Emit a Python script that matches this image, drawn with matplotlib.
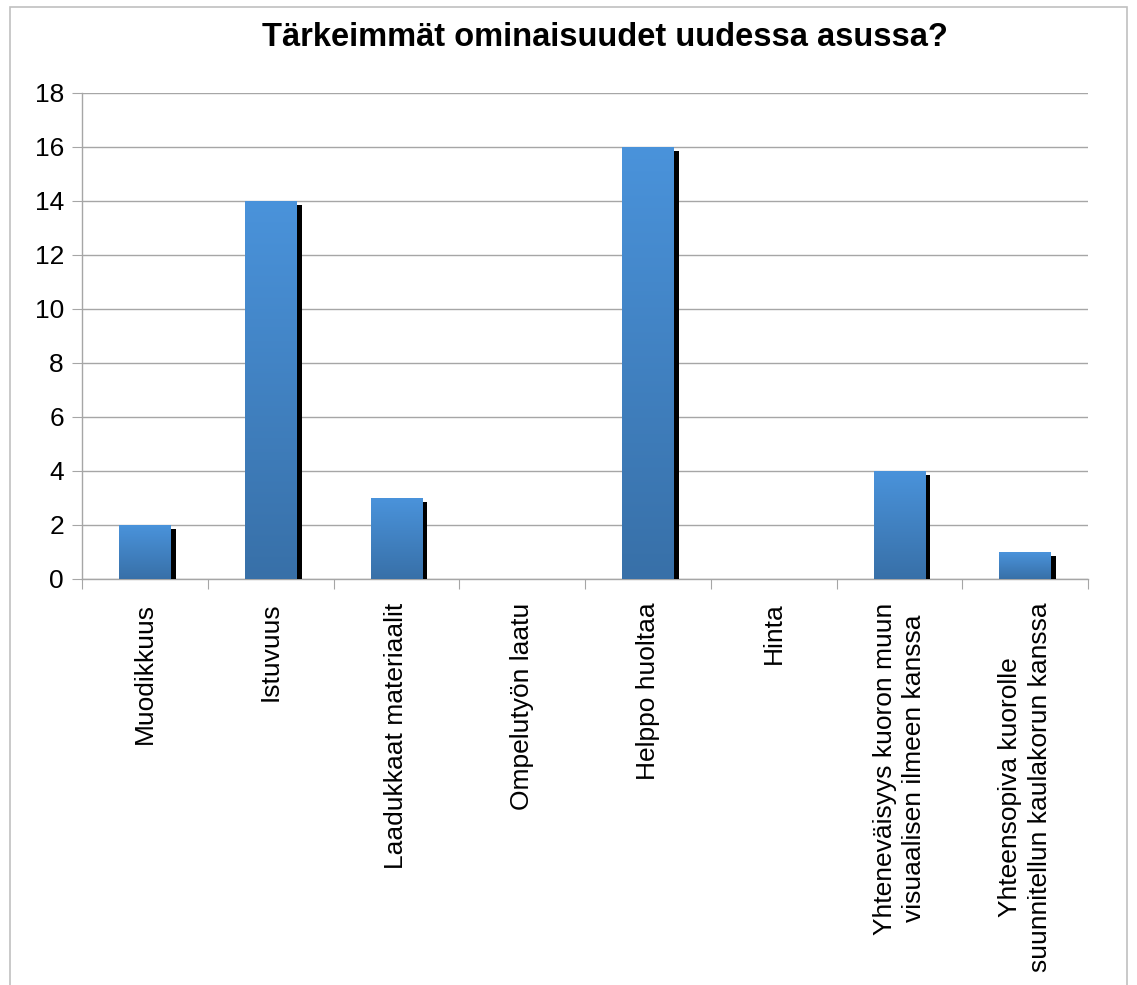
import numpy as np
import matplotlib
matplotlib.use("Agg")
import matplotlib.pyplot as plt
import matplotlib.patheffects as pe
from matplotlib.patches import Rectangle
from matplotlib.colors import LinearSegmentedColormap

plt.rcParams['font.family'] = ['Liberation Sans', 'DejaVu Sans']

title = "Tärkeimmät ominaisuudet uudessa asussa?"
categories = ["Muodikkuus", "Istuvuus", "Laadukkaat materiaalit", "Ompelutyön laatu",
              "Helppo huoltaa", "Hinta",
              "Yhteneväisyys kuoron muun\nvisuaalisen ilmeen kanssa",
              "Yhteensopiva kuorolle\nsuunnitellun kaulakorun kanssa"]
values = [2, 14, 3, 0, 16, 0, 4, 1]
yticks = [0, 2, 4, 6, 8, 10, 12, 14, 16, 18]

W, H = 1137, 985
fig = plt.figure(figsize=(W / 100, H / 100), dpi=100)
fig.patches.append(Rectangle((10 / W, -0.05), (1127 - 10) / W, 1.05 - 7 / H,
                             transform=fig.transFigure, fill=False,
                             edgecolor='#c0c0c0', linewidth=1.2))

ax = fig.add_axes([82 / W, 1 - 579 / H, (1088 - 82) / W, (579 - 93) / H])
x = np.arange(len(categories))
bars = ax.bar(x, values, width=0.41, color='#4287c8', zorder=3,
              path_effects=[pe.SimplePatchShadow(offset=(3.8, -3), shadow_rgbFace='black', alpha=1.0),
                            pe.Normal()])

cmap = LinearSegmentedColormap.from_list('g', ['#3870a8', '#4a93db'])
grad = np.linspace(0, 1, 256).reshape(-1, 1)
for b in bars:
    if b.get_height() <= 0:
        continue
    x0, w, h = b.get_x(), b.get_width(), b.get_height()
    im = ax.imshow(grad, cmap=cmap, aspect='auto', origin='lower',
                   extent=[x0, x0 + w, 0, h], zorder=4, interpolation='bilinear')
    im.set_clip_path(b)

ax.set_xlim(-0.5, len(categories) - 0.5)
ax.set_ylim(0, 18)
ax.set_yticks(yticks)
ax.set_yticklabels([str(v) for v in yticks], fontsize=19)
ax.yaxis.grid(True, color='#a6a6a6', linewidth=1.0, zorder=0)
ax.set_axisbelow(True)

ax.set_xticks(np.arange(len(categories) + 1) - 0.5)
ax.set_xticklabels([])
ax.set_xticks(x, minor=True)
ax.set_xticklabels(categories, minor=True, rotation=90, fontsize=19,
                   va='top', ha='center', multialignment='center',
                   linespacing=1.3)
ax.tick_params(axis='x', which='minor', length=0, pad=17)
ax.tick_params(axis='x', which='major', length=7, color='#a6a6a6', direction='out')
ax.tick_params(axis='y', length=7, color='#a6a6a6', direction='out', pad=6)

for s in ['top', 'right']:
    ax.spines[s].set_visible(False)
for s in ['left', 'bottom']:
    ax.spines[s].set_color('#a6a6a6')
    ax.spines[s].set_linewidth(1.0)

fig.text(605 / W, 1 - 38 / H, title, fontsize=23.5, fontweight='bold',
         ha='center', va='center')

fig.savefig('out.png', dpi=100)
